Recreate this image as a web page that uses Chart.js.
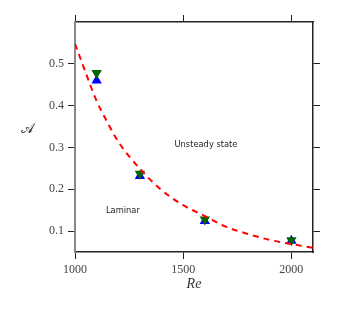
<!DOCTYPE html>
<html>
<head>
<meta charset="utf-8">
<script src="https://cdn.jsdelivr.net/npm/chart.js@4"></script>
<style>
  body { margin: 0; background: #fff; }
  canvas { display: block; }
</style>
</head>
<body>
<canvas id="myChart" width="341" height="318"></canvas>
<script>
// data
const reValues = [1100, 1300, 1600, 2000];
const ampUp = [0.460, 0.232, 0.124, 0.077];    // blue ^
const ampDown = [0.478, 0.237, 0.128, 0.078];  // green v
const fitRe = [1000, 1050, 1100, 1150, 1200, 1300, 1400, 1500, 1600, 1700, 1800, 1900, 2000, 2100];
const fitAmp = [0.548, 0.478, 0.411, 0.360, 0.314, 0.249, 0.198, 0.162, 0.136, 0.110, 0.093, 0.079, 0.069, 0.060];
const xTicks = [1000, 1500, 2000];
const yTicks = [0.1, 0.2, 0.3, 0.4, 0.5];
const regionLabels = [
    { text: 'Unsteady state', re: 1460, amp: 0.306 },
    { text: 'Laminar', re: 1143, amp: 0.149 }
];

const tickFont = { family: "'Liberation Serif', serif", size: 12 };
const pts = (xs, ys) => xs.map((x, i) => ({ x: x, y: ys[i] }));

function axis(pos, ticks, showLabels, size) {
    const horiz = pos === 'top' || pos === 'bottom';
    return {
        type: 'linear',
        position: pos,
        min: horiz ? 1000 : 0.05,
        max: horiz ? 2100 : 0.6,
        afterBuildTicks: s => { s.ticks = ticks.map(v => ({ value: v })); },
        afterFit: s => { if (horiz) s.height = size; else s.width = size; },
        ticks: {
            display: showLabels,
            autoSkip: false,
            maxRotation: 0,
            padding: 4,
            color: '#444',
            font: tickFont,
            callback: v => String(v)
        },
        grid: { drawOnChartArea: false, drawTicks: true, tickLength: 7, color: '#222', lineWidth: 1 },
        border: { display: true, color: pos === 'left' ? '#888' : '#222', width: pos === 'left' ? 2 : 1.5 }
    };
}

// 文字標註
const textPlugin = {
    id: 'texts',
    afterDraw(chart) {
        const ctx = chart.ctx;
        const x = chart.scales.x, y = chart.scales.y;
        ctx.save();
        ctx.fillStyle = '#222';
        ctx.font = "8.3px 'DejaVu Sans'";
        ctx.textAlign = 'left';
        ctx.textBaseline = 'middle';
        regionLabels.forEach(l => ctx.fillText(l.text, x.getPixelForValue(l.re), y.getPixelForValue(l.amp)));

        ctx.fillStyle = '#333';
        ctx.textAlign = 'center';
        ctx.font = "italic 14px 'Liberation Serif'";
        ctx.fillText('Re', (chart.chartArea.left + chart.chartArea.right) / 2, 284);
        ctx.font = "14px 'DejaVu Serif', 'DejaVu Sans', serif";
        ctx.fillText('𝒜', 27, 129);
        ctx.restore();
    }
};

var ctx = document.getElementById('myChart').getContext('2d');
var myChart = new Chart(ctx, {
    type: 'scatter',
    data: {
        datasets: [{
            label: 'fit',
            data: pts(fitRe, fitAmp),
            showLine: true,
            borderColor: '#ff0000',
            borderWidth: 2,
            borderDash: [6, 5],
            pointRadius: 0,
            cubicInterpolationMode: 'monotone'
        }, {
            label: 'down',
            data: pts(reValues, ampDown),
            pointStyle: 'triangle',
            pointRotation: 180,
            pointRadius: 6,
            backgroundColor: '#006400',
            borderColor: '#006400',
            borderWidth: 0
        }, {
            label: 'up',
            data: pts(reValues, ampUp),
            pointStyle: 'triangle',
            pointRadius: 6,
            backgroundColor: '#0000ff',
            borderColor: '#0000ff',
            borderWidth: 0
        }]
    },
    options: {
        responsive: false,
        animation: false,
        layout: { padding: 0 },
        plugins: { legend: { display: false }, tooltip: { enabled: false } },
        scales: {
            x: axis('bottom', xTicks, true, 66),
            x2: axis('top', xTicks, false, 22),
            y: axis('left', yTicks, true, 75),
            y2: axis('right', yTicks, false, 28)
        }
    },
    plugins: [textPlugin]
});
</script>
</body>
</html>
